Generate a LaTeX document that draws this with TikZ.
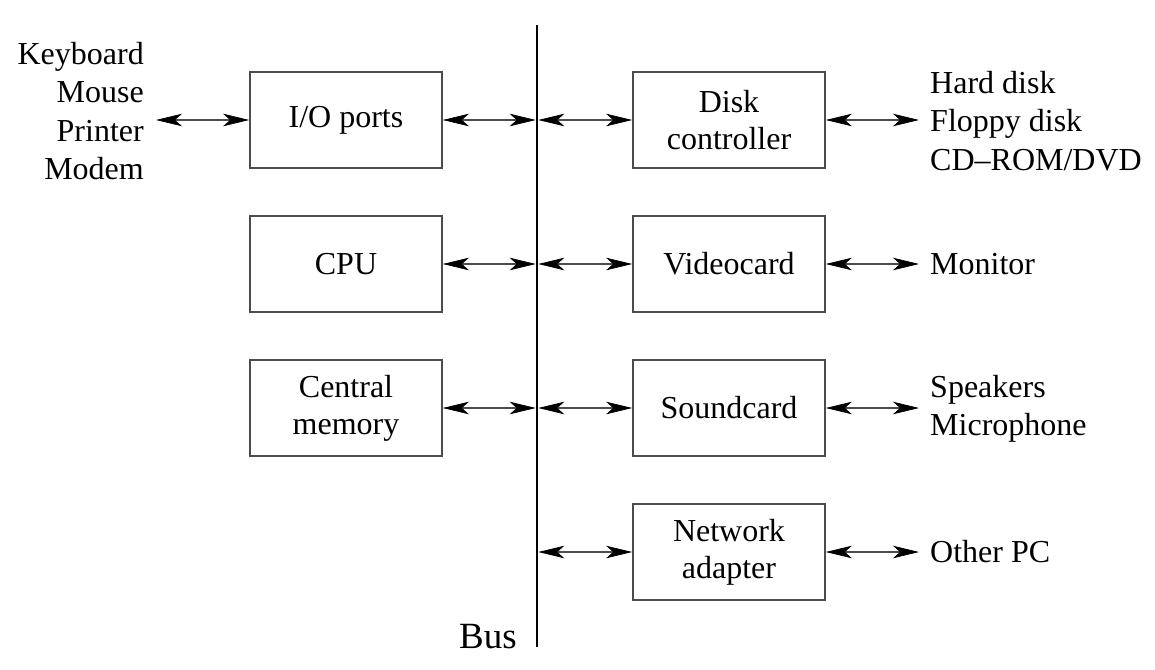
\documentclass[tikz,border=0pt]{standalone}
\usepackage{fontspec}
\setmainfont{Liberation Serif}
\usetikzlibrary{arrows.meta}
\begin{document}
\begin{tikzpicture}[x=1pt,y=-1pt,
  box/.style={draw=black!70, line width=1.7pt, minimum width=192pt, minimum height=96pt,
    inner sep=0pt, align=center, font=\fontsize{32}{37}\selectfont},
  lbl/.style={inner sep=0pt, font=\fontsize{32}{38.5}\selectfont},
  tipx/.tip={Stealth[length=26pt,width=12.5pt,inset=7pt,color=black,line width=0.7pt]},
  link/.style={line width=1.3pt, draw=black!70, tipx-tipx},
  busline/.style={line width=2.6pt, draw=black}
]
\useasboundingbox (0,0) rectangle (1155,669);

% bus
\coordinate (busTop) at (537,25);
\coordinate (busBot) at (537,647);
\draw[busline] (busTop) -- (busBot);
\node[inner sep=0pt, anchor=base east, font=\fontsize{37}{40}\selectfont] (buslbl) at (517,648) {Bus};

% left boxes
\node[box] (io)  at (346,120) {I/O ports};
\node[box] (cpu) at (346,264) {CPU};
\node[box] (mem) at (346,408) {Central\\memory};

% right boxes
\node[box] (disk)  at (729,120) {Disk\\controller};
\node[box] (video) at (729,264) {Videocard};
\node[box] (sound) at (729,408) {Soundcard};
\node[box] (net)   at (729,552) {Network\\adapter};

% external labels
\node[lbl, align=right, anchor=east] (peri) at (144,111) {Keyboard\\Mouse\\Printer\\Modem};
\node[lbl, align=left, anchor=west] (disks) at (930,121) {Hard disk\\Floppy disk\\CD--ROM/DVD};
\node[lbl, anchor=west] (mon) at (930,264) {Monitor};
\node[lbl, align=left, anchor=west] (spk) at (930,409) {Speakers\\Microphone};
\node[lbl, anchor=west] (opc) at (930,552) {Other PC};

% coordinates on the bus and near external labels
\coordinate (pL) at (156,120);
\coordinate (b1L) at (535.7,120);
\coordinate (b1R) at (538.3,120);
\coordinate (b2L) at (535.7,264);
\coordinate (b2R) at (538.3,264);
\coordinate (b3L) at (535.7,408);
\coordinate (b3R) at (538.3,408);
\coordinate (b4R) at (538.3,552);
\coordinate (dR) at (919,120);
\coordinate (vR) at (919,264);
\coordinate (sR) at (919,408);
\coordinate (nR) at (919,552);

% connectors
\draw[link] (pL) -- (io.west);
\draw[link] (io.east) -- (b1L);
\draw[link] (b1R) -- (disk.west);
\draw[link] (disk.east) -- (dR);

\draw[link] (cpu.east) -- (b2L);
\draw[link] (b2R) -- (video.west);
\draw[link] (video.east) -- (vR);

\draw[link] (mem.east) -- (b3L);
\draw[link] (b3R) -- (sound.west);
\draw[link] (sound.east) -- (sR);

\draw[link] (b4R) -- (net.west);
\draw[link] (net.east) -- (nR);
\end{tikzpicture}
\end{document}
